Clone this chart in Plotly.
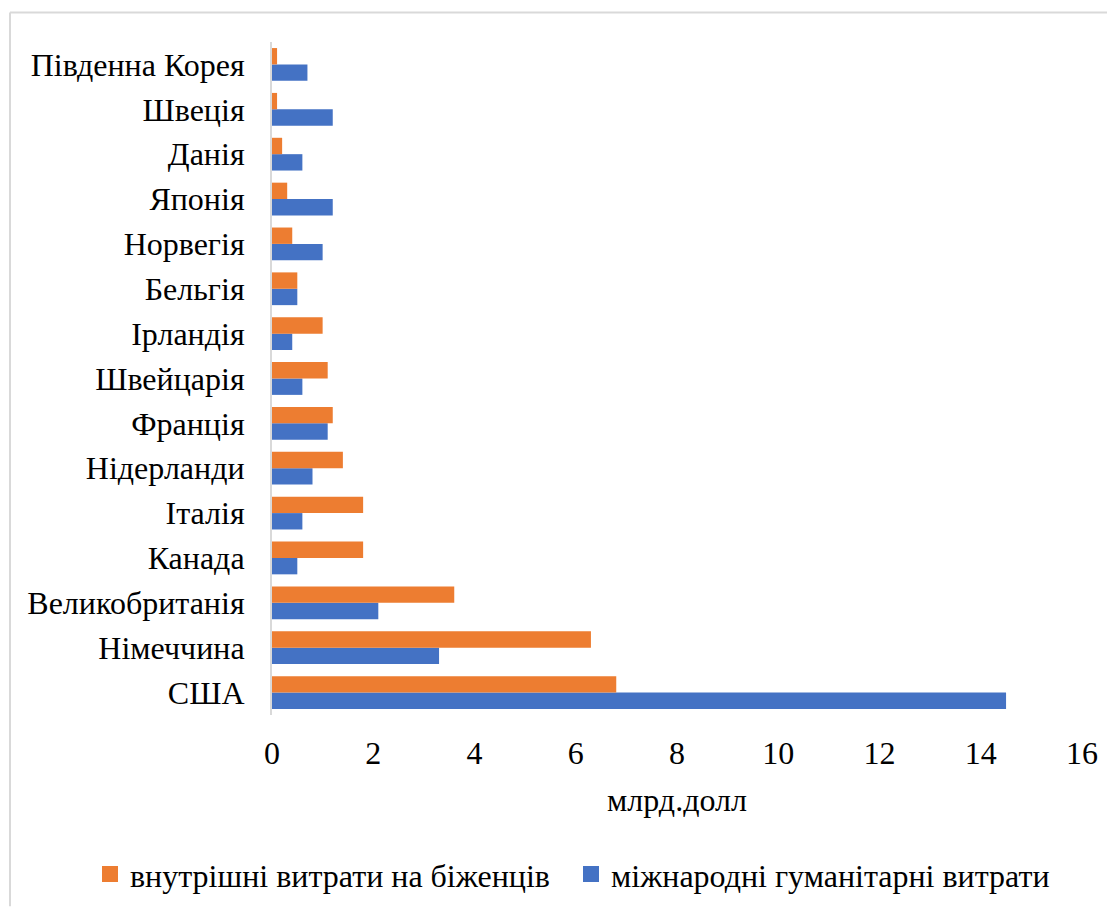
import plotly.graph_objects as go

categories = ["США", "Німеччина", "Великобританія", "Канада", "Італія", "Нідерланди",
              "Франція", "Швейцарія", "Ірландія", "Бельгія", "Норвегія", "Японія",
              "Данія", "Швеція", "Південна Корея"]
domestic = [6.8, 6.3, 3.6, 1.8, 1.8, 1.4, 1.2, 1.1, 1.0, 0.5, 0.4, 0.3, 0.2, 0.1, 0.1]
international = [14.5, 3.3, 2.1, 0.5, 0.6, 0.8, 1.1, 0.6, 0.4, 0.5, 1.0, 1.2, 0.6, 1.2, 0.7]
x_ticks = [0, 2, 4, 6, 8, 10, 12, 14, 16]
x_title = "млрд.долл"
name_dom = "внутрішні витрати на біженців"
name_int = "міжнародні гуманітарні витрати"
ORANGE, BLUE = "#ED7D31", "#4472C4"

OFF = 8  # default page body margin
W, H = 1115 - OFF, 907 - OFF
L, R, T, B = 272 - OFF, 33, 41.5 - OFF, 191.5
pw, ph = W - L - R, H - T - B

def px(xs):
    return (xs - OFF - L) / pw

def py(ys):
    return (H - B - (ys - OFF)) / ph

FONT = "Liberation Serif"
FS = 32

fig = go.Figure(layout=dict(template="none"))
fig.add_trace(go.Bar(y=categories, x=international, orientation="h", name=name_int,
                     marker_color=BLUE, marker_line_width=0, showlegend=False))
fig.add_trace(go.Bar(y=categories, x=domestic, orientation="h", name=name_dom,
                     marker_color=ORANGE, marker_line_width=0, showlegend=False))
# legend keys (larger square swatches, like the original)
fig.add_trace(go.Scatter(x=[None], y=[None], mode="markers", name=name_dom,
                         marker=dict(symbol="square", size=16, color=ORANGE)))
fig.add_trace(go.Scatter(x=[None], y=[None], mode="markers", name=name_int,
                         marker=dict(symbol="square", size=16, color=BLUE)))

fig.update_layout(
    width=W, height=H,
    margin=dict(l=L, r=R, t=T, b=B, pad=0, autoexpand=False),
    paper_bgcolor="white", plot_bgcolor="white",
    barmode="group", bargap=0.27, bargroupgap=0,
    font=dict(family=FONT, size=FS, color="black"),
    showlegend=True,
    legend=dict(orientation="h", traceorder="normal", x=px(90), xanchor="left",
                y=py(875), yanchor="middle",
                font=dict(size=FS, family=FONT, color="black"),
                entrywidth=436, entrywidthmode="pixels", bgcolor="rgba(0,0,0,0)"),
    xaxis=dict(range=[0, 16], tickvals=x_ticks, showgrid=False, zeroline=False,
               showline=False, ticks="", ticklabelstandoff=16, automargin=False,
               tickfont=dict(size=FS, family=FONT),
               title=dict(text=x_title, font=dict(size=FS, family=FONT, color="black"),
                          standoff=18)),
    yaxis=dict(showgrid=False, zeroline=False, showline=True, linecolor="#D9D9D9",
               linewidth=2, ticks="", ticklabelstandoff=19, automargin=False,
               tickfont=dict(size=FS, family=FONT)),
    shapes=[
        dict(type="line", xref="paper", yref="paper", x0=px(10), x1=px(1115),
             y0=py(12), y1=py(12), line=dict(color="#D9D9D9", width=2)),
        dict(type="line", xref="paper", yref="paper", x0=px(10), x1=px(10),
             y0=py(12), y1=py(907), line=dict(color="#D9D9D9", width=2)),
    ],
)

fig.write_html("out.html")
